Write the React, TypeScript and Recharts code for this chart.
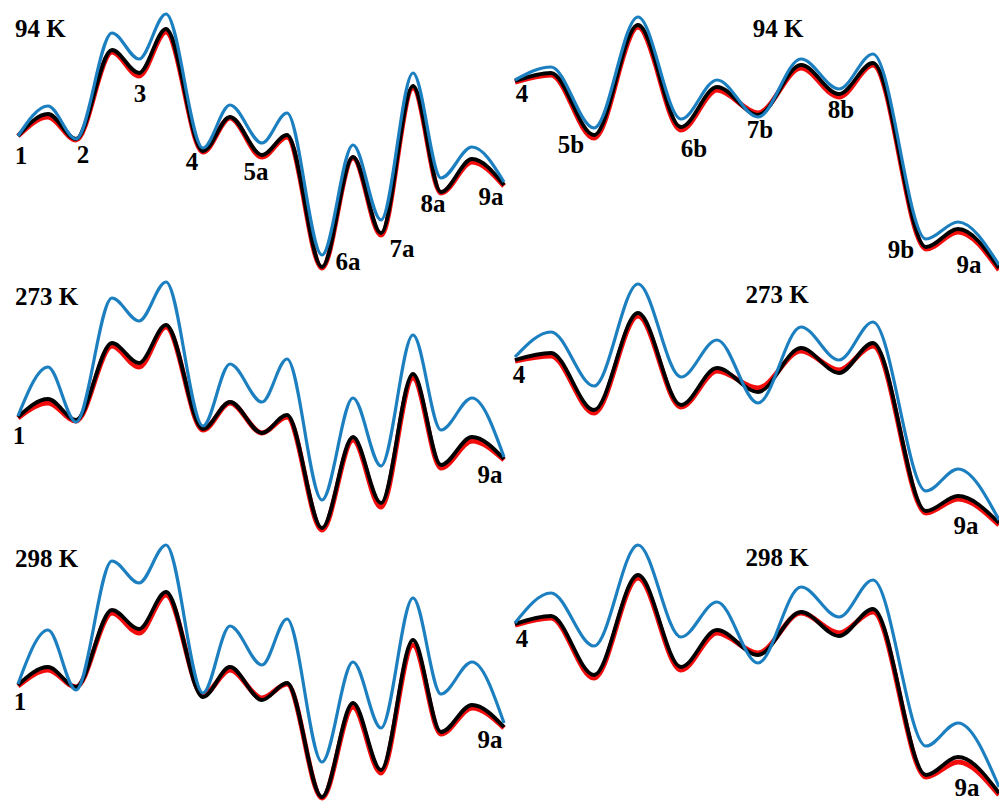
import React from 'react';
import { LineChart, Line, XAxis, YAxis, LabelList } from 'recharts';

// Reaction coordinate (arb.) for the two pathways
const LEFT_X = [0, 3.0, 5.8, 9.4, 12.1, 14.8, 18.5, 21.2, 24.4, 26.9, 30.4, 33.5, 36.3, 39.5, 42.3, 45.4, 48.6];
const RIGHT_X = [0, 3.6, 7.9, 12.3, 16.6, 20.2, 24.3, 28.6, 32.4, 35.8, 41.1, 44.3, 48.4];

// Species labels (empty = transition state, not labelled)
const LEFT_LABELS_FULL = ['1', '', '2', '', '3', '', '4', '', '5a', '', '6a', '', '7a', '', '8a', '', '9a'];
const LEFT_LABELS_ENDS = ['1', '', '', '', '', '', '', '', '', '', '', '', '', '', '', '', '9a'];
const RIGHT_LABELS_FULL = ['4', '', '5b', '', '6b', '', '7b', '', '8b', '', '9b', '', '9a'];
const RIGHT_LABELS_ENDS = ['4', '', '', '', '', '', '', '', '', '', '', '', '9a'];

// Relative energies, 94 K
const BLUE_94_A = [0, 15, -1.5, 51.5, 38.5, 61, -6, 15.5, -3.5, 11.5, -59.5, -4.5, -42, 31.5, -21, -5.5, -23];
const BLACK_94_A = [0, 11, -1.5, 43, 31.5, 53.5, -7.5, 9.5, -9.5, 0.5, -65.5, -10.5, -48.5, 25, -28, -11.5, -24.5];
const RED_94_A = [0, 9.5, -2, 42, 30, 52, -8, 9, -10.5, -0.5, -66, -11, -49.5, 24, -28.5, -13, -25];
const BLUE_94_B = [0.5, 7, -23.5, 32, -19, 0.5, -18, 11, -4, 13.5, -79, -70.5, -92];
const BLACK_94_B = [0, 4, -27, 28, -23, -3, -17, 8, -6.5, 9, -83, -74, -93.5];
const RED_94_B = [-0.5, 3, -28.5, 27, -24.5, -4.5, -16, 6.5, -8, 8, -84, -75.5, -94.5];

// Relative energies, 273 K
const BLUE_273_A = [0.5, 25, -2.5, 59.5, 48, 67.5, -4.5, 26.5, 7.5, 29, -41.5, 9.5, -24.5, 41, -6.5, 9.5, -20];
const BLACK_273_A = [0, 9, -1.5, 37, 27, 46, -6, 7.5, -8, 1, -55.5, -10, -43, 21.5, -24, -10, -21];
const RED_273_A = [-0.5, 7, -2, 35.5, 25, 45, -6.5, 7, -8, 0, -56.5, -11.5, -45, 19.5, -25.5, -12, -21.5];
const BLUE_273_B = [1.5, 14, -13, 38, -8.5, 10, -21.5, 16.5, 0, 19, -65.5, -54.5, -80];
const BLACK_273_B = [0, 3.5, -25, 23.5, -22.5, -4, -16, 6, -6.5, 8.5, -75.5, -68, -81.5];
const RED_273_B = [-0.5, 2, -26.5, 22, -23.5, -5.5, -14, 4.5, -5, 7, -76.5, -69.5, -82.5];

// Relative energies, 298 K
const BLUE_298_A = [0.5, 27.5, -2.5, 62, 51, 70, -4, 29.5, 10, 33, -38.5, 11.5, -21.5, 43.5, -4.5, 11.5, -19];
const BLACK_298_A = [0, 9, -1, 37.5, 28, 46.5, -6, 9, -7.5, 1, -56, -9, -42.5, 22.5, -23.5, -10, -21];
const RED_298_A = [-0.5, 7.5, -1, 36, 26, 45, -5, 7.5, -6.5, 0.5, -56.5, -11, -44, 20, -24.5, -11.5, -21.5];
const BLUE_298_B = [0.5, 15.5, -11, 39.5, -6.5, 11, -19.5, 18.5, 3.5, 22, -61, -49.5, -81.5];
const BLACK_298_B = [0, 4, -25.5, 24.5, -21.5, -3, -15.5, 6, -6, 7.5, -75.5, -66.5, -84.5];
const RED_298_B = [-0.5, 3, -27, 23, -23, -4.5, -14.5, 5.5, -4.5, 6, -76.5, -69, -85.5];

const TITLES = ['94 K', '273 K', '298 K'];

const COLORS = {
  blue: '#1c7fc0',
  black: '#000000',
  red: '#f20d0d',
};

const FONT = '"Liberation Serif", "Times New Roman", serif';
const Y_DOMAIN: [number, number] = [-110, 80];
const PLOT_H = 380; // 2 px per energy unit
const M = 10;

// label offsets from the black curve point, per panel
const LABEL_OFFSETS: Record<string, Record<string, [number, number]>> = {
  a0: { '1': [3, 28], '2': [7, 24], '3': [1, 29], '4': [-11, 19], '5a': [-6, 25], '6a': [26, 3], '7a': [21, 24], '8a': [-8, 20], '9a': [-13, 20] },
  a1: { '1': [1, 27], '9a': [-14, 24] },
  a2: { '1': [2, 25], '9a': [-14, 21] },
  b0: { '4': [7, 21], '5b': [-23, 18], '6b': [13, 30], '7b': [2, 23], '8b': [2, 24], '9b': [-25, 11], '9a': [-30, 5] },
  b1: { '4': [4, 23], '9a': [-33, 11] },
  b2: { '4': [7, 23], '9a': [-32, 3] },
};

// where energy 0 sits on the page for each row
const ROW_ZERO_A = [136, 417, 685];
const ROW_ZERO_B = [81, 360, 624];

function buildRows(xs: number[], labels: string[], blue: number[], black: number[], red: number[]) {
  return xs.map((x, i) => ({ x, blue: blue[i], black: black[i], red: red[i], label: labels[i] }));
}

const PANELS = [
  { id: 'a0', data: buildRows(LEFT_X, LEFT_LABELS_FULL, BLUE_94_A, BLACK_94_A, RED_94_A) },
  { id: 'a1', data: buildRows(LEFT_X, LEFT_LABELS_ENDS, BLUE_273_A, BLACK_273_A, RED_273_A) },
  { id: 'a2', data: buildRows(LEFT_X, LEFT_LABELS_ENDS, BLUE_298_A, BLACK_298_A, RED_298_A) },
  { id: 'b0', data: buildRows(RIGHT_X, RIGHT_LABELS_FULL, BLUE_94_B, BLACK_94_B, RED_94_B) },
  { id: 'b1', data: buildRows(RIGHT_X, RIGHT_LABELS_ENDS, BLUE_273_B, BLACK_273_B, RED_273_B) },
  { id: 'b2', data: buildRows(RIGHT_X, RIGHT_LABELS_ENDS, BLUE_298_B, BLACK_298_B, RED_298_B) },
];

function SpeciesLabel(props: any, panelId: string) {
  const { x, y, value } = props;
  if (!value) return null;
  const off = LABEL_OFFSETS[panelId][value] || [0, 24];
  return (
    <text
      x={x + off[0]}
      y={y + off[1]}
      textAnchor="middle"
      fontFamily={FONT}
      fontWeight="bold"
      fontSize={25}
      fill="#000"
    >
      {value}
    </text>
  );
}

function Panel({ id, data }: { id: string; data: any[] }) {
  const isLeft = id[0] === 'a';
  const row = Number(id[1]);
  const zeroY = isLeft ? ROW_ZERO_A[row] : ROW_ZERO_B[row];
  const top = zeroY - Y_DOMAIN[1] * (PLOT_H / (Y_DOMAIN[1] - Y_DOMAIN[0])) - M;
  const left = isLeft ? 8 : 505;
  const width = isLeft ? 506 : 494;
  const margin = { top: M, bottom: M, left: M, right: isLeft ? M : 0 };
  const xDomain: [number, number] = [0, isLeft ? 48.6 : 48.4];

  return (
    <div style={{ position: 'absolute', left, top }}>
      <LineChart width={width} height={PLOT_H + 2 * M} data={data} margin={margin}>
        <XAxis type="number" dataKey="x" domain={xDomain} hide />
        <YAxis type="number" domain={Y_DOMAIN} hide />
        <Line
          type="monotone"
          dataKey="red"
          stroke={COLORS.red}
          strokeWidth={5}
          dot={false}
          isAnimationActive={false}
        />
        <Line
          type="monotone"
          dataKey="black"
          stroke={COLORS.black}
          strokeWidth={3.8}
          dot={false}
          isAnimationActive={false}
        >
          <LabelList dataKey="label" content={(p: any) => SpeciesLabel(p, id)} />
        </Line>
        <Line
          type="monotone"
          dataKey="blue"
          stroke={COLORS.blue}
          strokeWidth={3.2}
          dot={false}
          isAnimationActive={false}
        />
      </LineChart>
    </div>
  );
}

export default function App() {
  return (
    <div
      style={{
        position: 'absolute',
        left: 0,
        top: 0,
        width: 999,
        height: 804,
        overflow: 'hidden',
        background: '#fff',
      }}
    >
      {PANELS.map((p) => (
        <Panel key={p.id} id={p.id} data={p.data} />
      ))}
      {/* temperature titles */}
      <svg width={999} height={804} style={{ position: 'absolute', left: 0, top: 0, pointerEvents: 'none' }}>
        <g fontFamily={FONT} fontWeight="bold" fontSize={25} fill="#000">
          <text x={15} y={37}>{TITLES[0]}</text>
          <text x={15} y={305}>{TITLES[1]}</text>
          <text x={15} y={567}>{TITLES[2]}</text>
          <text x={778} y={37} textAnchor="middle">{TITLES[0]}</text>
          <text x={777} y={303} textAnchor="middle">{TITLES[1]}</text>
          <text x={777} y={566} textAnchor="middle">{TITLES[2]}</text>
        </g>
      </svg>
    </div>
  );
}
